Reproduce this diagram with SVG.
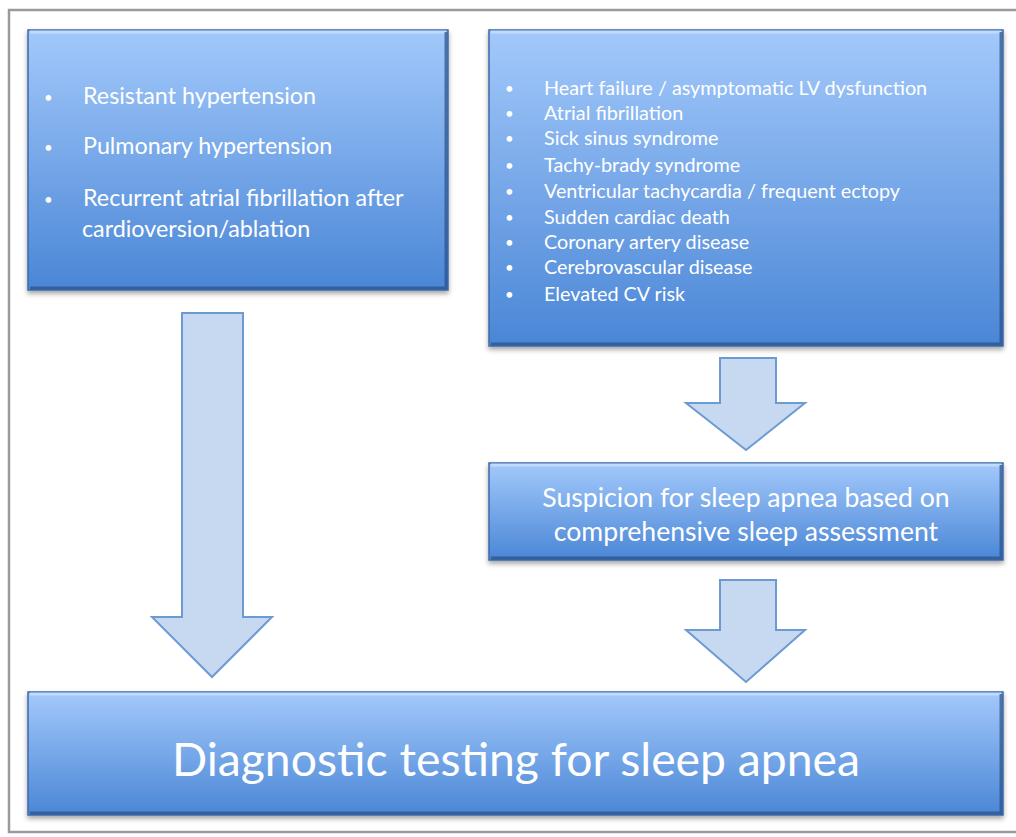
<svg xmlns="http://www.w3.org/2000/svg" width="1016" height="837" viewBox="0 0 1016 837">
<defs>
<linearGradient id="bg" x1="0" y1="0" x2="0" y2="1">
<stop offset="0" stop-color="#a3c9fb"/>
<stop offset="1" stop-color="#4a86d6"/>
</linearGradient>
<filter id="sh" x="-5%" y="-5%" width="110%" height="120%">
<feDropShadow dx="0" dy="3" stdDeviation="2.5" flood-color="#000" flood-opacity="0.35"/>
</filter>
<style>
.box{fill:url(#bg);stroke:#3d6aa8;stroke-width:1.5;filter:url(#sh)}
.hl{fill:none;stroke:#c8e0ff;stroke-width:3;opacity:0.8}
.dk{fill:none;stroke:#284f86;stroke-width:3;opacity:0.7}
.arr{fill:#c6d9f1;stroke:#6e9ad4;stroke-width:2;stroke-linejoin:miter}
text{font-family:Lato,"Open Sans","Liberation Sans",sans-serif;fill:#fff}
.t1{font-size:23.3px}
.t2{font-size:19.8px}
.t3{font-size:26.6px}
.t4{font-size:46.3px}
.b{font-size:15px}
</style>
</defs>
<rect x="9" y="10" width="1020" height="822" fill="#fff" stroke="#9a9a9a" stroke-width="2.5"/>
<g id="connectors">
<polygon class="arr" points="182,313 243,313 243,617 272,617 212,677 152,617 182,617"/>
<polygon class="arr" points="720,358 776,358 776,403 805,403 746,450 686,403 720,403"/>
<polygon class="arr" points="720,580 776,580 776,630 805,630 746,682 686,630 720,630"/>
</g>
<g id="node1">
<rect class="box" x="28" y="30" width="420" height="260"/>
<path class="hl" d="M30,32 H446"/>
<path class="dk" d="M446,32 V288 H30"/>
<text class="t1"><tspan class="b" x="44" y="103">•</tspan><tspan x="83" y="104">Resistant hypertension</tspan></text>
<text class="t1"><tspan class="b" x="44" y="153">•</tspan><tspan x="83" y="154">Pulmonary hypertension</tspan></text>
<text class="t1"><tspan class="b" x="44" y="205">•</tspan><tspan x="83" y="206">Recurrent atrial fibrillation after</tspan></text>
<text class="t1" x="82" y="237">cardioversion/ablation</text>
</g>
<g id="node2">
<rect class="box" x="489" y="30" width="514" height="316"/>
<path class="hl" d="M491,32 H1001"/>
<path class="dk" d="M1001,32 V344 H491"/>
<g class="t2">
<text><tspan class="b" x="505" y="94">•</tspan><tspan x="544" y="95">Heart failure / asymptomatic LV dysfunction</tspan></text>
<text><tspan class="b" x="505" y="119">•</tspan><tspan x="544" y="120">Atrial fibrillation</tspan></text>
<text><tspan class="b" x="505" y="144">•</tspan><tspan x="544" y="145">Sick sinus syndrome</tspan></text>
<text><tspan class="b" x="505" y="171">•</tspan><tspan x="544" y="172">Tachy-brady syndrome</tspan></text>
<text><tspan class="b" x="505" y="197">•</tspan><tspan x="544" y="198">Ventricular tachycardia / frequent ectopy</tspan></text>
<text><tspan class="b" x="505" y="223">•</tspan><tspan x="544" y="224">Sudden cardiac death</tspan></text>
<text><tspan class="b" x="505" y="248">•</tspan><tspan x="544" y="249">Coronary artery disease</tspan></text>
<text><tspan class="b" x="505" y="273">•</tspan><tspan x="544" y="274">Cerebrovascular disease</tspan></text>
<text><tspan class="b" x="505" y="300">•</tspan><tspan x="544" y="301">Elevated CV risk</tspan></text>
</g>
</g>
<g id="node3">
<rect class="box" x="489" y="463" width="514" height="97"/>
<path class="hl" d="M491,465 H1001"/>
<path class="dk" d="M1001,465 V558 H491"/>
<text class="t3" x="746" y="507" text-anchor="middle">Suspicion for sleep apnea based on</text>
<text class="t3" x="746" y="541" text-anchor="middle">comprehensive sleep assessment</text>
</g>
<g id="node4">
<rect class="box" x="28" y="692" width="975" height="123"/>
<path class="hl" d="M30,694 H1001"/>
<path class="dk" d="M1001,694 V813 H30"/>
<text class="t4" x="516" y="776" text-anchor="middle">Diagnostic testing for sleep apnea</text>
</g>
</svg>
